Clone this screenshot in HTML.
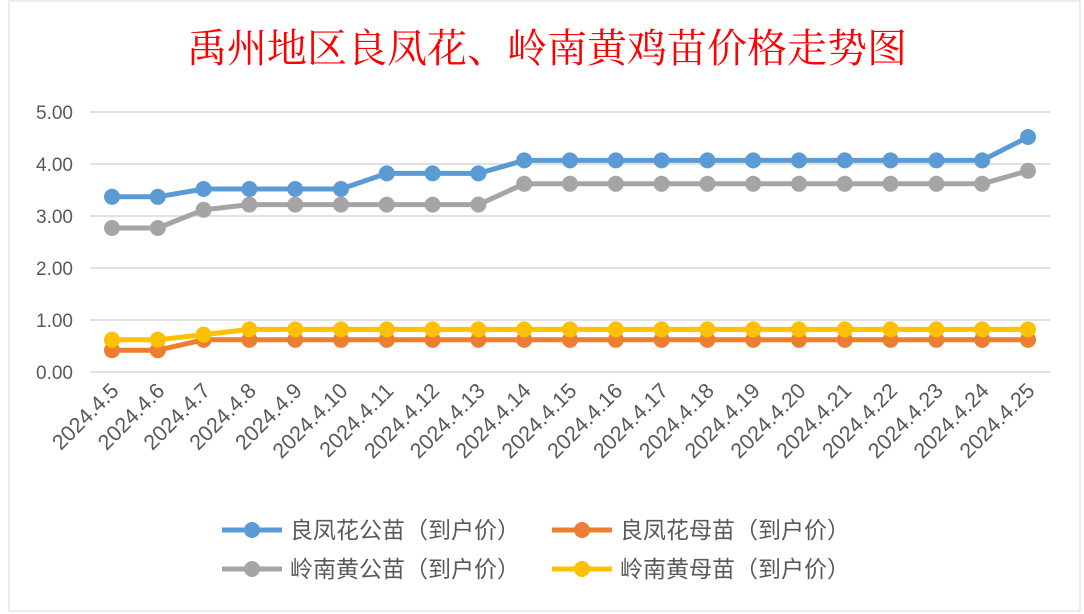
<!DOCTYPE html>
<html><head><meta charset="utf-8"><style>
html,body{margin:0;padding:0;background:#fff;}
svg{display:block;font-family:"Liberation Sans","Noto Sans CJK SC",sans-serif;}
</style></head><body>
<svg id="chart" width="1084" height="614" viewBox="0 0 1084 614">
<rect x="9" y="1" width="1071" height="610" fill="#fff" stroke="#d9d9d9"/>
<text x="547" y="62" text-anchor="middle" font-size="40" fill="#ff0000" font-family="'Noto Serif CJK SC','Liberation Serif',serif">禹州地区良凤花、岭南黄鸡苗价格走势图</text>
<g id="grid"></g><g id="yticks"></g><g id="xticks"></g><g id="series"></g><g id="legend"></g>
</svg>
<script>
const categories=["2024.4.5","2024.4.6","2024.4.7","2024.4.8","2024.4.9","2024.4.10","2024.4.11","2024.4.12","2024.4.13","2024.4.14","2024.4.15","2024.4.16","2024.4.17","2024.4.18","2024.4.19","2024.4.20","2024.4.21","2024.4.22","2024.4.23","2024.4.24","2024.4.25"];
const lfhMale=[3.35,3.35,3.5,3.5,3.5,3.5,3.8,3.8,3.8,4.05,4.05,4.05,4.05,4.05,4.05,4.05,4.05,4.05,4.05,4.05,4.5];
const lfhFemale=[0.4,0.4,0.6,0.6,0.6,0.6,0.6,0.6,0.6,0.6,0.6,0.6,0.6,0.6,0.6,0.6,0.6,0.6,0.6,0.6,0.6];
const lnhMale=[2.75,2.75,3.1,3.2,3.2,3.2,3.2,3.2,3.2,3.6,3.6,3.6,3.6,3.6,3.6,3.6,3.6,3.6,3.6,3.6,3.85];
const lnhFemale=[0.6,0.6,0.7,0.8,0.8,0.8,0.8,0.8,0.8,0.8,0.8,0.8,0.8,0.8,0.8,0.8,0.8,0.8,0.8,0.8,0.8];
const yTicks=[0,1,2,3,4,5];
const seriesNames=["良凤花公苗（到户价）","良凤花母苗（到户价）","岭南黄公苗（到户价）","岭南黄母苗（到户价）"];
const NS="http://www.w3.org/2000/svg";
const X0=112,X1=1028,Y0=372,PU=52,L=90,R=1050;
const xs=i=>X0+i*(X1-X0)/(categories.length-1);
const ys=v=>Y0-v*PU-1;
function mk(tag,attrs,parent,text){const e=document.createElementNS(NS,tag);for(const k in attrs)e.setAttribute(k,attrs[k]);if(text!==undefined)e.textContent=text;document.getElementById(parent).appendChild(e);return e;}
yTicks.forEach(t=>{
  const yy=Y0-t*PU;
  const g=mk('line',{x1:L,x2:R,y1:yy,y2:yy,stroke:'#d9d9d9','stroke-width':1.5},'grid');
  
  
  const tx=mk('text',{x:73,y:yy+7,'text-anchor':'end','font-size':19,fill:'#595959'},'yticks',t.toFixed(2));
  
  
});
categories.forEach((c,i)=>{
  const x=xs(i)+8,y=392;
  const tx=mk('text',{x:x,y:y,'text-anchor':'end','font-size':21.5,fill:'#595959',transform:`rotate(-45 ${x} ${y})`},'xticks',c);
  
  
});
const colors=["#5b9bd5","#ed7d31","#a5a5a5","#ffc000"];
const data=[lfhMale,lfhFemale,lnhMale,lnhFemale];
[0,2,1,3].forEach(s=>{
  const pts=data[s].map((v,i)=>xs(i)+','+ys(v)).join(' ');
  const pl=mk('polyline',{points:pts,fill:'none',stroke:colors[s],'stroke-width':5,'stroke-linejoin':'round'},'series');
  
  
  data[s].forEach((v,i)=>{
    const c=mk('circle',{cx:xs(i),cy:ys(v),r:8,fill:colors[s]},'series');
    
    
  });
});
const legPos=[[222,530],[552,530],[222,569],[552,569]];
seriesNames.forEach((n,s)=>{
  const [x,y]=legPos[s];
  const l=mk('line',{x1:x,x2:x+60,y1:y,y2:y,stroke:colors[s],'stroke-width':5},'legend');
  
  
  const c=mk('circle',{cx:x+30,cy:y,r:8,fill:colors[s]},'legend');
  
  
  const t=mk('text',{x:x+68,y:y+8,'font-size':23,fill:'#595959'},'legend',n);
  
  
});
</script>
</body></html>
